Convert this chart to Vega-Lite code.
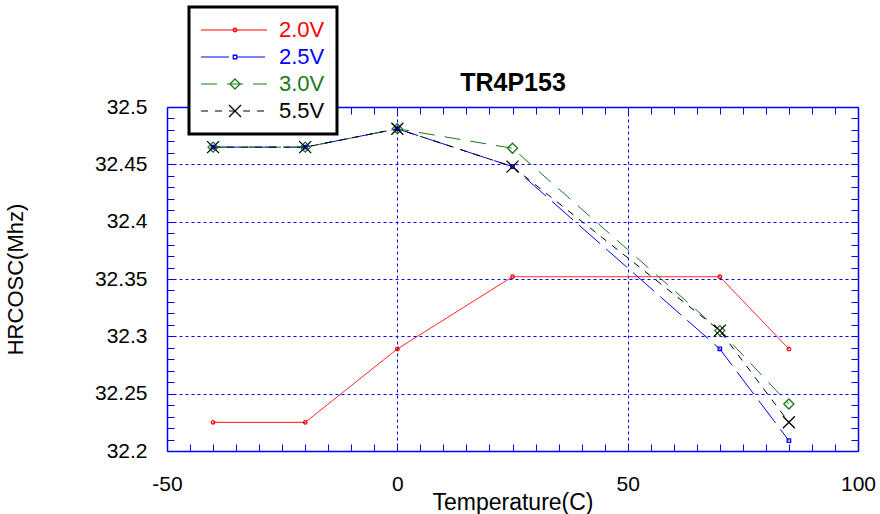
{
  "$schema": "https://vega.github.io/schema/vega-lite/v6.json",
  "width": 691,
  "height": 344,
  "autosize": "none",
  "padding": {"left": 167, "top": 107, "right": 22, "bottom": 63},
  "background": "white",
  "config": {
    "font": "Liberation Sans",
    "view": {"stroke": null}
  },
  "data": {
    "values": [
      {"temperature": -40, "freq": 32.225, "series": "2.0V"},
      {"temperature": -20, "freq": 32.225, "series": "2.0V"},
      {"temperature": 0, "freq": 32.289, "series": "2.0V"},
      {"temperature": 25, "freq": 32.352, "series": "2.0V"},
      {"temperature": 70, "freq": 32.352, "series": "2.0V"},
      {"temperature": 85, "freq": 32.289, "series": "2.0V"},
      {"temperature": -40, "freq": 32.465, "series": "2.5V"},
      {"temperature": -20, "freq": 32.465, "series": "2.5V"},
      {"temperature": 0, "freq": 32.481, "series": "2.5V"},
      {"temperature": 25, "freq": 32.448, "series": "2.5V"},
      {"temperature": 70, "freq": 32.289, "series": "2.5V"},
      {"temperature": 85, "freq": 32.209, "series": "2.5V"},
      {"temperature": -40, "freq": 32.465, "series": "3.0V"},
      {"temperature": -20, "freq": 32.465, "series": "3.0V"},
      {"temperature": 0, "freq": 32.481, "series": "3.0V"},
      {"temperature": 25, "freq": 32.464, "series": "3.0V"},
      {"temperature": 70, "freq": 32.305, "series": "3.0V"},
      {"temperature": 85, "freq": 32.241, "series": "3.0V"},
      {"temperature": -40, "freq": 32.465, "series": "5.5V"},
      {"temperature": -20, "freq": 32.465, "series": "5.5V"},
      {"temperature": 0, "freq": 32.481, "series": "5.5V"},
      {"temperature": 25, "freq": 32.448, "series": "5.5V"},
      {"temperature": 70, "freq": 32.305, "series": "5.5V"},
      {"temperature": 85, "freq": 32.225, "series": "5.5V"}
    ]
  },
  "resolve": {"axis": {"x": "independent", "y": "independent"}},
  "layer": [
    {
      "mark": {"type": "line", "strokeWidth": 1},
      "encoding": {
        "x": {
          "field": "temperature", "type": "quantitative",
          "scale": {"domain": [-50, 100], "nice": false, "zero": false},
          "axis": {
            "orient": "bottom",
            "title": "Temperature(C)",
            "titleFont": "Liberation Sans", "titleFontSize": 23, "titleFontWeight": "normal", "titleColor": "black",
            "titleBaseline": "alphabetic", "titleY": 58,
            "values": [-50,-45,-40,-35,-30,-25,-20,-15,-10,-5,0,5,10,15,20,25,30,35,40,45,50,55,60,65,70,75,80,85,90,95,100],
            "labelExpr": "datum.value % 50 === 0 ? '' + datum.value : ''",
            "labelFont": "Liberation Sans", "labelFontSize": 21, "labelColor": "black",
            "labelBaseline": "middle", "labelPadding": 40, "labelFlush": false, "labelOverlap": false,
            "domainColor": "#0000ff", "domainWidth": 1.5,
            "tickColor": "#0000ff", "tickWidth": 1, "tickSize": -7,
            "grid": true, "gridColor": "#0000ff", "gridWidth": 1, "gridDash": [3, 3],
            "gridOpacity": {"condition": {"test": "datum.value % 50 === 0 && datum.value > -50 && datum.value < 100", "value": 1}, "value": 0}
          }
        },
        "y": {
          "field": "freq", "type": "quantitative",
          "scale": {"domain": [32.2, 32.5], "nice": false, "zero": false},
          "axis": {
            "orient": "left",
            "title": "HRCOSC(Mhz)",
            "titleFont": "Liberation Sans", "titleFontSize": 22, "titleFontWeight": "normal", "titleColor": "black",
            "titleBaseline": "middle", "titleX": -152, "titleAngle": -90,
            "values": [32.2,32.21,32.22,32.23,32.24,32.25,32.26,32.27,32.28,32.29,32.3,32.31,32.32,32.33,32.34,32.35,32.36,32.37,32.38,32.39,32.4,32.41,32.42,32.43,32.44,32.45,32.46,32.47,32.48,32.49,32.5],
            "labelExpr": "abs(datum.value * 20 - round(datum.value * 20)) < 0.001 ? format(datum.value, '') : ''",
            "labelFont": "Liberation Sans", "labelFontSize": 21, "labelColor": "black",
            "labelPadding": 27, "labelFlush": false, "labelOverlap": false,
            "domainColor": "#0000ff", "domainWidth": 1.5,
            "tickColor": "#0000ff", "tickWidth": 1, "tickSize": -7,
            "grid": true, "gridColor": "#0000ff", "gridWidth": 1, "gridDash": [3, 3],
            "gridOpacity": {"condition": {"test": "abs(datum.value * 20 - round(datum.value * 20)) < 0.001 && datum.value > 32.21 && datum.value < 32.49", "value": 1}, "value": 0}
          }
        },
        "color": {
          "field": "series", "type": "nominal",
          "scale": {"range": ["#ff0000", "#0000ff", "#1a7a1a", "#000000"]},
          "legend": {
            "orient": "none", "legendX": 22, "legendY": -100,
            "title": null,
            "symbolType": "M-5,0H5", "symbolSize": 174, "symbolStrokeWidth": 1, "symbolOffset": 22,
            "labelFont": "Liberation Sans", "labelFontSize": 22, "labelOffset": 34,
            "padding": 12, "rowPadding": 5, "clipHeight": 22,
            "strokeColor": "black", "fillColor": "white",
            "encode": {
              "labels": {"update": {"fill": {"scale": "color", "field": "value"}}},
              "symbols": {"update": {"stroke": {"scale": "color", "field": "value"}}},
              "legend": {"update": {"strokeWidth": {"value": 3}}}
            }
          }
        },
        "strokeDash": {
          "field": "series", "type": "nominal",
          "scale": {"range": [[1, 0], [28, 8], [16, 10], [7, 7]]},
          "legend": {
            "orient": "none", "legendX": 22, "legendY": -100,
            "title": null,
            "symbolType": "M-5,0H5", "symbolSize": 174, "symbolStrokeWidth": 1, "symbolOffset": 22,
            "labelFont": "Liberation Sans", "labelFontSize": 22, "labelOffset": 34,
            "padding": 12, "rowPadding": 5, "clipHeight": 22,
            "strokeColor": "black", "fillColor": "white",
            "encode": {
              "labels": {"update": {"fill": {"scale": "color", "field": "value"}}},
              "symbols": {"update": {"stroke": {"scale": "color", "field": "value"}}},
              "legend": {"update": {"strokeWidth": {"value": 3}}}
            }
          }
        }
      }
    },
    {
      "mark": {"type": "point", "filled": false, "strokeWidth": 1.3, "opacity": 1},
      "encoding": {
        "x": {"field": "temperature", "type": "quantitative", "axis": null},
        "y": {"field": "freq", "type": "quantitative", "axis": null},
        "stroke": {
          "field": "series", "type": "nominal",
          "scale": {"domain": ["2.0V", "2.5V", "3.0V", "5.5V"], "range": ["#ff0000", "#0000ff", "#1a7a1a", "#000000"]},
          "legend": {
            "orient": "none", "legendX": 57, "legendY": -88,
            "title": null, "padding": 0, "rowPadding": 5, "clipHeight": 22,
            "labelExpr": "''", "labelFontSize": 22, "labelOffset": 7,
            "symbolStrokeWidth": 1.3
          }
        },
        "shape": {
          "field": "series", "type": "nominal",
          "scale": {"domain": ["2.0V", "2.5V", "3.0V", "5.5V"], "range": ["circle", "square", "diamond", "M-1,-1L1,1M-1,1L1,-1"]},
          "legend": {
            "orient": "none", "legendX": 57, "legendY": -88,
            "title": null, "padding": 0, "rowPadding": 5, "clipHeight": 22,
            "labelExpr": "''", "labelFontSize": 22, "labelOffset": 7,
            "symbolStrokeWidth": 1.3
          }
        },
        "size": {
          "field": "series", "type": "ordinal",
          "scale": {"type": "ordinal", "domain": ["2.0V", "2.5V", "3.0V", "5.5V"], "range": [12, 12, 100, 144]},
          "legend": {
            "orient": "none", "legendX": 57, "legendY": -88,
            "title": null, "padding": 0, "rowPadding": 5, "clipHeight": 22,
            "labelExpr": "''", "labelFontSize": 22, "labelOffset": 7,
            "symbolStrokeWidth": 1.3
          }
        }
      }
    },
    {
      "mark": {"type": "point", "opacity": 0},
      "encoding": {
        "x": {
          "field": "temperature", "type": "quantitative",
          "axis": {
            "orient": "top", "labels": false, "grid": false,
            "title": "TR4P153",
            "titleFont": "Liberation Sans", "titleFontSize": 25, "titleFontWeight": "bold", "titleColor": "black",
            "titleBaseline": "alphabetic", "titleY": -17,
            "values": [-50,-45,-40,-35,-30,-25,-20,-15,-10,-5,0,5,10,15,20,25,30,35,40,45,50,55,60,65,70,75,80,85,90,95,100],
            "domainColor": "#0000ff", "domainWidth": 1.5,
            "tickColor": "#0000ff", "tickWidth": 1, "tickSize": -7
          }
        },
        "y": {
          "field": "freq", "type": "quantitative",
          "axis": {
            "orient": "right", "title": null, "labels": false, "grid": false,
            "values": [32.2,32.21,32.22,32.23,32.24,32.25,32.26,32.27,32.28,32.29,32.3,32.31,32.32,32.33,32.34,32.35,32.36,32.37,32.38,32.39,32.4,32.41,32.42,32.43,32.44,32.45,32.46,32.47,32.48,32.49,32.5],
            "domainColor": "#0000ff", "domainWidth": 1.5,
            "tickColor": "#0000ff", "tickWidth": 1, "tickSize": -7
          }
        }
      }
    }
  ]
}
